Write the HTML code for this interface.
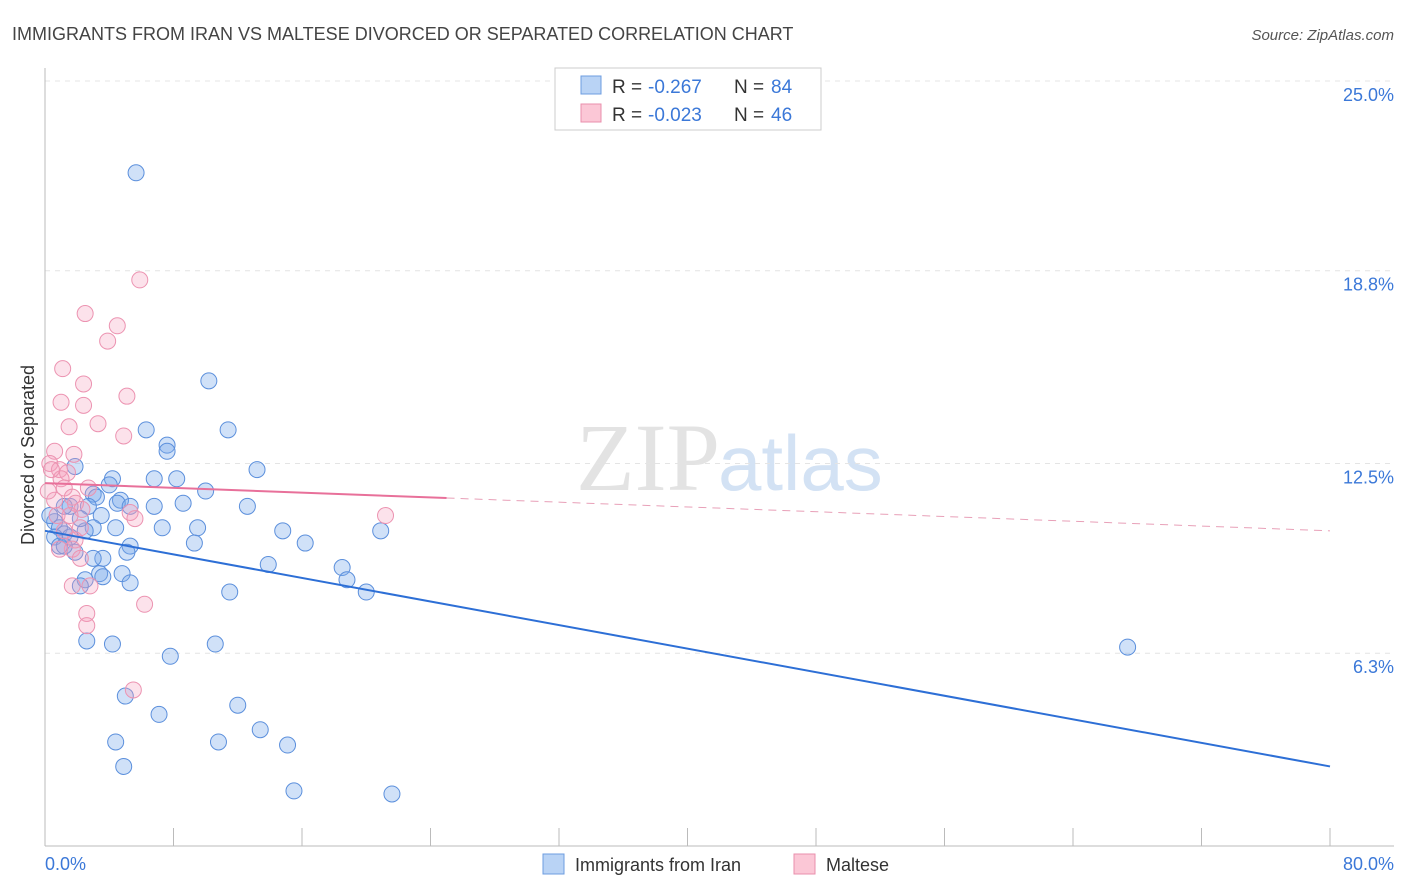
<!DOCTYPE html>
<html><head><meta charset="utf-8"><style>
body{margin:0;background:#fff;font-family:"Liberation Sans",sans-serif;}
svg{display:block}
</style></head><body>
<svg width="1406" height="892">
<text x="12" y="40" font-size="18" fill="#444">IMMIGRANTS FROM IRAN VS MALTESE DIVORCED OR SEPARATED CORRELATION CHART</text>
<text x="1394" y="40" font-size="15" fill="#555" font-style="italic" text-anchor="end">Source: ZipAtlas.com</text>
<text x="720" y="490" font-size="96" fill="#e3e3e3" text-anchor="end" font-family="Liberation Serif">ZIP</text>
<text x="718" y="490" font-size="78" fill="#d3e2f4">atlas</text>
<g id="grid"></g>
<g id="axes"></g>
<text transform="translate(34,455) rotate(-90)" font-size="18" fill="#333" text-anchor="middle">Divorced or Separated</text>
<text x="45" y="870" font-size="18" fill="#3b78d8">0.0%</text>
<text x="1394" y="870" font-size="18" fill="#3b78d8" text-anchor="end">80.0%</text>
<g id="pts"></g>
<g id="lines"></g>
<g>
<rect x="555" y="68" width="266" height="62" fill="#fff" stroke="#ccc"/>
<rect x="581" y="76" width="20" height="18" fill="#b9d3f5" stroke="#6d9de0"/>
<rect x="581" y="104" width="20" height="18" fill="#fbc7d6" stroke="#ea8fac"/>
<text x="612" y="93" font-size="19" fill="#333">R = </text>
<text x="648" y="93" font-size="19" fill="#3b78d8">-0.267</text>
<text x="734" y="93" font-size="19" fill="#333">N = </text>
<text x="771" y="93" font-size="19" fill="#3b78d8">84</text>
<text x="612" y="121" font-size="19" fill="#333">R = </text>
<text x="648" y="121" font-size="19" fill="#3b78d8">-0.023</text>
<text x="734" y="121" font-size="19" fill="#333">N = </text>
<text x="771" y="121" font-size="19" fill="#3b78d8">46</text>
</g>
<g>
<rect x="543" y="854" width="21" height="20" fill="#b9d3f5" stroke="#6d9de0"/>
<text x="575" y="871" font-size="18" fill="#333">Immigrants from Iran</text>
<rect x="794" y="854" width="21" height="20" fill="#fbc7d6" stroke="#ea8fac"/>
<text x="826" y="871" font-size="18" fill="#333">Maltese</text>
</g>
</svg>
<script>
const yTicks=[25.0,18.8,12.5,6.3];
const yTickLabels=["25.0%","18.8%","12.5%","6.3%"];
const xTicks=[0,8,16,24,32,40,48,56,64,72,80];
const blueX=[5.67,10.2,11.4,6.3,7.6,7.6,13.2,1.87,4.2,6.8,8.2,4.0,10.0,3.0,3.2,4.7,4.5,8.6,6.8,5.3,12.6,1.56,2.7,3.5,0.6,0.9,3.0,2.5,4.4,7.3,9.5,14.8,20.9,1.2,1.56,0.6,9.3,16.2,5.3,0.9,1.87,5.1,3.6,3.0,13.9,18.5,4.8,3.4,3.6,18.8,2.5,5.3,2.2,11.5,20.0,2.6,4.2,10.6,7.8,67.4,5.0,12.0,7.1,13.4,4.4,10.8,15.1,4.9,15.5,21.6,1.2,0.3,2.2,1.2];
const blueY=[22.0,15.2,13.6,13.6,13.1,12.9,12.3,12.4,12.0,12.0,12.0,11.8,11.6,11.5,11.4,11.3,11.2,11.2,11.1,11.1,11.1,11.1,11.1,10.8,10.6,10.4,10.4,10.3,10.4,10.4,10.4,10.3,10.3,10.2,10.1,10.1,9.9,9.9,9.8,9.8,9.6,9.6,9.4,9.4,9.2,9.1,8.9,8.9,8.8,8.7,8.7,8.6,8.5,8.3,8.3,6.7,6.6,6.6,6.2,6.5,4.9,4.6,4.3,3.8,3.4,3.4,3.3,2.6,1.8,1.7,11.1,10.8,10.7,9.8];
const pinkX=[5.9,2.5,4.5,3.9,1.1,2.4,1.0,2.4,5.1,3.3,1.5,4.9,0.6,1.8,0.3,0.9,1.4,1.0,2.7,1.2,1.7,0.6,1.9,2.3,5.3,0.75,21.2,1.56,5.6,2.2,1.2,1.87,1.7,0.9,2.2,1.7,2.8,6.2,2.6,2.6,5.5,0.4,0.2];
const pinkY=[18.5,17.4,17.0,16.5,15.6,15.1,14.5,14.4,14.7,13.8,13.7,13.4,12.9,12.8,12.5,12.3,12.2,12.0,11.7,11.7,11.4,11.3,11.2,11.0,10.9,10.8,10.8,10.8,10.7,10.4,10.3,10.0,9.7,9.7,9.4,8.5,8.5,7.9,7.6,7.2,5.1,12.3,11.6];
const blueTrend=[10.3,2.6];
const pinkTrend=[11.86,10.3];
const pinkSolidEnd=25;
const X=v=>45+v/80*1285;
const Y=v=>846-v*30.6;
const NS="http://www.w3.org/2000/svg";
function mk(tag,attrs,parent){const e=document.createElementNS(NS,tag);for(const k in attrs)e.setAttribute(k,attrs[k]);document.getElementById(parent).appendChild(e);return e;}
yTicks.forEach((t,i)=>{
 const l=mk('line',{x1:45,x2:1394,y1:Y(t),y2:Y(t),stroke:'#e4e4e4','stroke-dasharray':'5,5'},'grid');
 
 
 const tx=mk('text',{x:1394,y:Y(t)+20,'font-size':18,fill:'#3b78d8','text-anchor':'end'},'grid');
 tx.textContent=yTickLabels[i];
 
 
});
const ax=mk('line',{x1:45,x2:45,y1:68,y2:846,stroke:'#bbb'},'axes');


const bx=mk('line',{x1:45,x2:1394,y1:846,y2:846,stroke:'#bbb'},'axes');


xTicks.forEach(t=>{
 const l=mk('line',{x1:X(t),x2:X(t),y1:828,y2:846,stroke:'#bbb'},'axes');
 
 
});
blueX.forEach((v,i)=>{
 const c=mk('circle',{cx:X(v),cy:Y(blueY[i]),r:8,fill:'rgba(120,168,235,0.35)',stroke:'#5b8fdc','stroke-width':1},'pts');
 
 
});
pinkX.forEach((v,i)=>{
 const c=mk('circle',{cx:X(v),cy:Y(pinkY[i]),r:8,fill:'rgba(245,160,190,0.3)',stroke:'#ec93b1','stroke-width':1},'pts');
 
 
});
const bl=mk('line',{x1:X(0),y1:Y(blueTrend[0]),x2:X(80),y2:Y(blueTrend[1]),stroke:'#2d6fd6','stroke-width':2},'lines');


const pm=pinkTrend[0]+(pinkTrend[1]-pinkTrend[0])*pinkSolidEnd/80;
const pl=mk('line',{x1:X(0),y1:Y(pinkTrend[0]),x2:X(pinkSolidEnd),y2:Y(pm),stroke:'#e8709a','stroke-width':2},'lines');


const pd=mk('line',{x1:X(pinkSolidEnd),y1:Y(pm),x2:X(80),y2:Y(pinkTrend[1]),stroke:'#e8a0b8','stroke-width':1,'stroke-dasharray':'8,6'},'lines');


</script>
</body></html>
